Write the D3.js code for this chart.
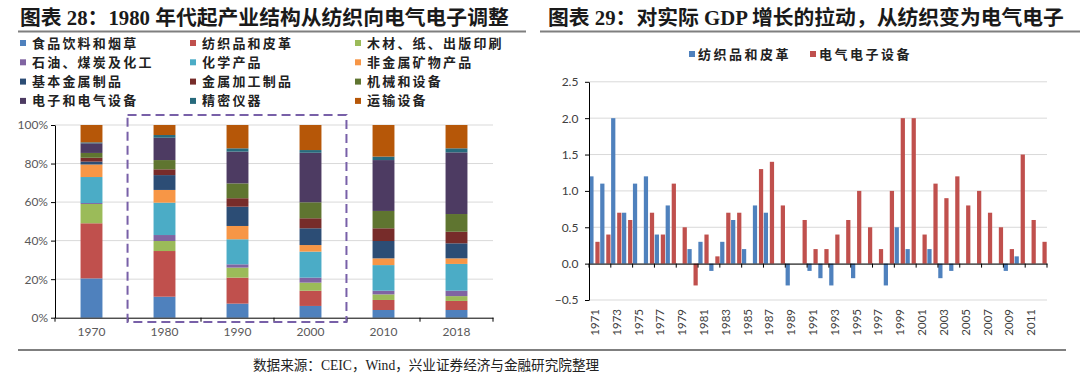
<!DOCTYPE html>
<html>
<head>
<meta charset="utf-8">
<script src="https://cdn.jsdelivr.net/npm/d3@7"></script>
<style>
  body { margin: 0; background: #fff; }
  svg { display: block; }
  .tick text { font-family: Lato, "Liberation Sans", sans-serif; }
</style>
</head>
<body>
<div class="chart"></div>
<script>
// ---- left chart data (share of manufacturing, %) ----
var decades = ["1970", "1980", "1990", "2000", "2010", "2018"];
var industries = ["食品饮料和烟草", "纺织品和皮革", "木材、纸、出版印刷",
  "石油、煤炭及化工", "化学产品", "非金属矿物产品",
  "基本金属制品", "金属加工制品", "机械和设备",
  "电子和电气设备", "精密仪器", "运输设备"];
var food        = [20.4, 10.9, 7.3, 6.1, 4.0, 4.0];
var textile     = [28.6, 23.7, 13.5, 7.9, 5.2, 4.7];
var wood        = [10.0, 5.2, 5.2, 4.2, 2.9, 2.5];
var petro       = [0.5, 3.1, 1.7, 2.6, 1.9, 2.8];
var chemical    = [13.5, 16.8, 13.0, 13.5, 13.3, 13.9];
var nonmetal    = [6.5, 6.6, 6.9, 3.4, 3.5, 2.9];
var basicMetal  = [1.5, 7.7, 10.0, 8.7, 9.0, 7.8];
var metalProc   = [2.0, 3.0, 4.4, 5.2, 6.6, 6.0];
var machinery   = [2.5, 4.8, 7.7, 8.3, 9.0, 9.2];
var electronics = [5.0, 11.6, 16.5, 25.7, 26.4, 32.0];
var precision   = [0.5, 1.4, 1.7, 1.4, 1.8, 2.1];
var transport   = [9.0, 5.2, 12.1, 13.0, 16.4, 12.1];
var pctTicks = [0, 20, 40, 60, 80, 100];

// ---- right chart data (pull on real GDP growth) ----
var years = d3.range(1971, 2013).map(String);
var textilePull = [1.2, 1.1, 2.0, 0.7, 1.1, 1.2, 0.4, 0.8, 0, 0.2,
  0.3, -0.1, 0.3, 0.6, 0.2, 0.8, 0.7, 0, -0.3, 0,
  -0.1, -0.2, -0.3, 0, -0.2, 0, 0, -0.3, 0.5, 0.2,
  0, 0.2, -0.2, -0.1, 0, 0, 0, 0, -0.1, 0.1,
  0, 0];
var elecPull = [0.3, 0.4, 0.7, 0.6, 0, 0.7, 0.4, 1.1, 0.5, -0.3,
  0.4, 0.1, 0.7, 0.7, 0, 1.3, 1.4, 0.8, 0, 0.6,
  0.2, 0.2, 0.4, 0.6, 1.0, 0.5, 0.2, 1.0, 2.0, 2.0,
  0.4, 1.1, 0.9, 1.2, 0.8, 1.0, 0.7, 0.5, 0.2, 1.5,
  0.6, 0.3];
var pullTicks = [-0.5, 0, 0.5, 1.0, 1.5, 2.0, 2.5];

var colors = ["#4F81BD", "#C0504D", "#9BBB59", "#8064A2", "#4BACC6", "#F79646",
  "#2C4D75", "#772C2A", "#5F7530", "#4D3B62", "#276A7C", "#B65708"];

var cjk = '"Liberation Serif", "Noto Sans CJK SC", serif';
var tickColor = "#595959";

var svg = d3.select(".chart").append("svg")
  .attr("width", 1080)
  .attr("height", 377);

// titles and rules
svg.append("text")
  .attr("x", 20).attr("y", 17)
  .attr("dominant-baseline", "central")
  .attr("font-family", cjk).attr("font-weight", "bold")
  .attr("font-size", "20.8px").attr("fill", "#1a1a1a")
  .text("图表 28：1980 年代起产业结构从纺织向电气电子调整");
svg.append("text")
  .attr("x", 548).attr("y", 17)
  .attr("dominant-baseline", "central")
  .attr("font-family", cjk).attr("font-weight", "bold")
  .attr("font-size", "20.8px").attr("fill", "#1a1a1a")
  .text("图表 29：对实际 GDP 增长的拉动，从纺织变为电气电子");
svg.append("line").attr("x1", 18).attr("x2", 526).attr("y1", 31.5).attr("y2", 31.5)
  .attr("stroke", "#7f7f7f").attr("stroke-width", 2);
svg.append("line").attr("x1", 540).attr("x2", 1080).attr("y1", 31.5).attr("y2", 31.5)
  .attr("stroke", "#7f7f7f").attr("stroke-width", 2);
svg.append("line").attr("x1", 18).attr("x2", 1066).attr("y1", 350).attr("y2", 350)
  .attr("stroke", "#7f7f7f").attr("stroke-width", 2);
svg.append("text")
  .attr("x", 253).attr("y", 365)
  .attr("dominant-baseline", "central")
  .attr("font-family", cjk).attr("font-size", "13.6px").attr("fill", "#222")
  .text("数据来源：CEIC，Wind，兴业证券经济与金融研究院整理");

// ================= left: stacked bars =================
var leftLegend = svg.append("g");
industries.forEach(function(name, i) {
  var col = i % 3, row = Math.floor(i / 3);
  var lx = [20, 190, 355][col];
  var ly = 43 + row * 19.3;
  leftLegend.append("rect")
    .attr("x", lx).attr("y", ly - 3).attr("width", 6).attr("height", 6)
    .attr("fill", colors[i]);
  leftLegend.append("text")
    .attr("x", lx + 12).attr("y", ly)
    .attr("dominant-baseline", "central")
    .attr("font-family", cjk).attr("font-weight", "bold")
    .attr("font-size", "13px").attr("letter-spacing", "2.2px").attr("fill", "#222")
    .text(name);
});

var series = [food, textile, wood, petro, chemical, nonmetal,
  basicMetal, metalProc, machinery, electronics, precision, transport];
var rows = decades.map(function(d, j) {
  var r = { decade: d };
  industries.forEach(function(k, i) { r[k] = series[i][j]; });
  return r;
});

var xL = d3.scaleBand().domain(decades).range([55, 493])
  .paddingInner(0.7).paddingOuter(0.35);
var yL = d3.scaleLinear().domain([0, 100]).range([317.7, 125]);

var left = svg.append("g");
left.selectAll(".grid").data(pctTicks.slice(1)).enter().append("line")
  .attr("x1", 55).attr("x2", 493)
  .attr("y1", d => yL(d)).attr("y2", d => yL(d))
  .attr("stroke", "#d9d9d9");

var stacked = d3.stack().keys(industries)(rows);
left.selectAll(".layer").data(stacked).enter().append("g")
  .attr("fill", (d, i) => colors[i])
  .selectAll("rect").data(d => d).enter().append("rect")
  .attr("x", d => xL(d.data.decade))
  .attr("width", xL.bandwidth())
  .attr("y", d => yL(d[1]))
  .attr("height", d => yL(d[0]) - yL(d[1]));

var leftY = left.append("g")
  .attr("transform", "translate(55,0)")
  .call(d3.axisLeft(yL).tickValues(pctTicks).tickFormat(d => d + "%").tickSize(4).tickSizeOuter(0));
leftY.selectAll("text").attr("font-size", "12px").attr("fill", tickColor);

var leftX = left.append("g")
  .attr("transform", "translate(0,317.7)")
  .call(d3.axisBottom(xL).tickSize(0).tickSizeOuter(0));
leftX.selectAll("text").attr("font-size", "12px").attr("fill", tickColor).attr("dy", "1.3em");
leftX.selectAll(".bnd").data(d3.range(decades.length + 1)).enter().append("line")
  .attr("x1", i => 55 + i * xL.step()).attr("x2", i => 55 + i * xL.step())
  .attr("y1", 0).attr("y2", 4).attr("stroke", "#000");
left.selectAll(".domain, .tick line").attr("stroke", "#000");

// dashed box around 1980-2000
var bx0 = xL("1980") - 26, bx1 = xL("2000") + xL.bandwidth() + 25;
left.append("rect")
  .attr("x", bx0).attr("y", 115)
  .attr("width", bx1 - bx0).attr("height", 207)
  .attr("fill", "none")
  .attr("stroke", "#7860a8").attr("stroke-width", 2)
  .attr("stroke-dasharray", "9,5");

// ================= right: grouped bars =================
var rightLegend = svg.append("g");
[["纺织品和皮革", colors[0], 689], ["电气电子设备", colors[1], 810]].forEach(function(l) {
  rightLegend.append("rect")
    .attr("x", l[2]).attr("y", 51).attr("width", 6).attr("height", 6)
    .attr("fill", l[1]);
  rightLegend.append("text")
    .attr("x", l[2] + 9).attr("y", 54)
    .attr("dominant-baseline", "central")
    .attr("font-family", cjk).attr("font-weight", "bold")
    .attr("font-size", "13px").attr("letter-spacing", "2.5px").attr("fill", "#222")
    .text(l[0]);
});

var x0 = d3.scaleBand().domain(years).range([589, 1047]);
var x1 = d3.scaleBand().domain([0, 1]).range([0, x0.bandwidth()])
  .paddingInner(0.3).paddingOuter(0.05);
var yR = d3.scaleLinear().domain([-0.5, 2.5]).range([300, 81.8]);

var right = svg.append("g");
right.selectAll(".grid").data(pullTicks).enter().append("line")
  .attr("x1", 589).attr("x2", 1047)
  .attr("y1", d => yR(d)).attr("y2", d => yR(d))
  .attr("stroke", "#d9d9d9");

var pulls = years.map((y, i) => ({ year: y, vals: [textilePull[i], elecPull[i]] }));
var grp = right.selectAll(".yr").data(pulls).enter().append("g")
  .attr("transform", d => "translate(" + x0(d.year) + ",0)");
grp.selectAll("rect").data(d => d.vals).enter().append("rect")
  .attr("x", (d, i) => x1(i))
  .attr("width", x1.bandwidth())
  .attr("y", d => yR(Math.max(0, d)))
  .attr("height", d => Math.abs(yR(d) - yR(0)))
  .attr("fill", (d, i) => colors[i]);

var rightY = right.append("g")
  .attr("transform", "translate(589,0)")
  .call(d3.axisLeft(yR).tickValues(pullTicks).tickFormat(d3.format(".1f")).tickSize(4).tickSizeOuter(0));
rightY.selectAll("text").attr("font-size", "12px").attr("fill", "#404040").attr("dx", "-0.3em");

var rightX = right.append("g")
  .attr("transform", "translate(0," + yR(0) + ")")
  .call(d3.axisBottom(x0).tickSize(0).tickSizeOuter(0).tickFormat(""));
rightX.selectAll(".bnd").data(d3.range(0, years.length + 1, 2)).enter().append("line")
  .attr("x1", i => 589 + i * x0.step()).attr("x2", i => 589 + i * x0.step())
  .attr("y1", 0).attr("y2", 4).attr("stroke", "#000");
right.selectAll(".domain, .tick line").attr("stroke", "#000");

right.selectAll(".ylab").data(years.filter((y, i) => i % 2 === 0)).enter().append("text")
  .attr("transform", d => "translate(" + (x0(d) + x0.bandwidth() / 2) + ",309) rotate(-90)")
  .attr("text-anchor", "end")
  .attr("dominant-baseline", "central")
  .attr("font-family", 'Lato, "Liberation Sans", sans-serif')
  .attr("font-size", "11.5px").attr("fill", "#404040")
  .text(d => d);
</script>
</body>
</html>
